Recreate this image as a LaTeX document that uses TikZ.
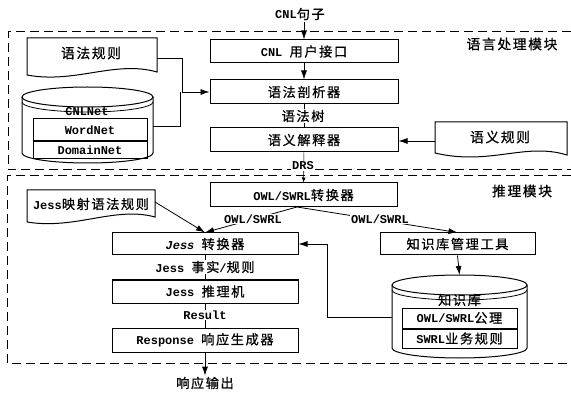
\documentclass[tikz,border=0pt]{standalone}
\usepackage{fontspec}
\setmainfont{Liberation Mono}
\newfontfamily\cjk{Noto Sans CJK SC}[LetterSpace=12, FakeBold=0.8, Scale=1.1]
\usetikzlibrary{arrows.meta}
\newcommand\zh[1]{{\cjk\mdseries\upshape #1}}
\tikzset{
  box/.style={draw, line width=1pt, inner sep=0pt, font=\fontsize{12}{14}\selectfont\bfseries},
  docshape/.style={draw, line width=1pt, fill=white},
  lbl/.style={fill=white, inner sep=1pt, font=\fontsize{12}{14}\selectfont\bfseries},
  plain/.style={inner sep=1pt, font=\fontsize{12}{14}\selectfont\bfseries},
  arr/.style={-{Latex[length=9pt,width=6pt]}, line width=0.8pt},
  smallarr/.style={-{Latex[length=5pt,width=4pt]}, line width=0.6pt},
  conn/.style={line width=0.7pt},
  module/.style={dash pattern=on 9pt off 5pt, line width=1pt}
}
\begin{document}
\begin{tikzpicture}[x=1pt,y=-1pt]
\useasboundingbox (0,0) rectangle (571,393);

% module frames
\draw[module] (571,32) -- (8,32) -- (8,170) -- (571,170);
\draw[module] (571,176) -- (7,176) -- (7,363) -- (571,363);

% main column (language module)
\node[box, minimum width=188pt, minimum height=23pt] (cnl) at (304,51.5) {CNL \zh{用户接口}};
\node[box, minimum width=188pt, minimum height=24pt] (parser) at (304,92) {\zh{语法剖析器}};
\node[box, minimum width=188pt, minimum height=24pt] (interp) at (304,140) {\zh{语义解释器}};
\node[box, minimum width=187pt, minimum height=24pt] (conv) at (303.5,195) {OWL/SWRL\zh{转换器}};

% reasoning column
\node[box, minimum width=186pt, minimum height=22pt] (jessconv) at (205,244) {{\itshape Jess} \zh{转换器}};
\node[box, minimum width=186pt, minimum height=23pt] (jessinf) at (205,291.5) {Jess \zh{推理机}};
\node[box, minimum width=186pt, minimum height=24pt] (resp) at (205,340) {Response \zh{响应生成器}};
\node[box, minimum width=155pt, minimum height=22pt] (kbm) at (457.5,244) {\zh{知识库管理工具}};

% documents
\draw[docshape] (27,38) -- (157,38) -- (157,72)
  .. controls (115,60) and (75,84) .. (27,75) -- cycle;
\node[plain, font=\fontsize{12.5}{15}\selectfont] (gr) at (91,53) {\zh{语法规则}};
\coordinate (grR) at (157,58);

\draw[docshape] (435,122) -- (567,122) -- (567,155)
  .. controls (525,142) and (490,166) .. (435,153) -- cycle;
\node[plain, font=\fontsize{12.5}{15}\selectfont] (sr) at (500,137) {\zh{语义规则}};
\coordinate (srL) at (435,141);

\draw[docshape] (27,190) -- (155,190) -- (155,217)
  .. controls (115,206) and (75,230) .. (27,222) -- cycle;
\node[plain, font=\fontsize{12}{15}\selectfont\bfseries] (jm) at (91,204) {Jess\zh{映射语法规则}};
\coordinate (jmR) at (155,202);

% CNLNet cylinder
\draw[line width=1pt, fill=white] (22,97) -- (22,153)
  arc[start angle=180, end angle=360, x radius=65.5pt, y radius=10pt] -- (153,97);
\draw[line width=1pt] (87.5,97) ellipse [x radius=65.5pt, y radius=10pt];
\draw[line width=0.8pt] (22,102) arc[start angle=180, end angle=360, x radius=65.5pt, y radius=10pt];
\node[plain, inner sep=0pt] (cnlnet) at (87,112) {CNLNet};
\node[box, minimum width=114pt, minimum height=22pt] (wordnet) at (90,130) {WordNet};
\node[box, minimum width=114pt, minimum height=17pt] (domainnet) at (90,150.5) {DomainNet};
\draw[line width=2pt] (wordnet.south west) -- (wordnet.south east);
\coordinate (cnlnetR) at (153,126);

% knowledge base cylinder
\draw[line width=1pt, fill=white] (392,285) -- (392,348)
  arc[start angle=180, end angle=360, x radius=67.5pt, y radius=10pt] -- (527,285);
\draw[line width=1pt] (459.5,285) ellipse [x radius=67.5pt, y radius=10pt];
\draw[line width=0.8pt] (392,290) arc[start angle=180, end angle=360, x radius=67.5pt, y radius=10pt];
\node[plain, inner sep=0pt] (kb) at (459.5,300) {\zh{知识库}};
\node[box, minimum width=115pt, minimum height=20pt] (owlax) at (459.5,318) {OWL/SWRL\zh{公理}};
\node[box, minimum width=115pt, minimum height=19pt] (swrl) at (459.5,338.5) {SWRL\zh{业务规则}};
\coordinate (kbtop) at (459.5,275);
\coordinate (kbL) at (392,317);

% free labels
\node[plain] (cnlsent) at (300,14) {CNL\zh{句子}};
\coordinate (cnlsentB) at (304,22);
\node[plain, font=\fontsize{12.5}{15}\selectfont] (lang) at (512,44) {\zh{语言处理模块}};
\node[plain, font=\fontsize{12.5}{15}\selectfont] (reason) at (522,191) {\zh{推理模块}};
\node[plain] (out) at (205,383) {\zh{响应输出}};

% connectors
\draw[arr] (cnlsentB) -- (cnl.north);
\draw[arr] (cnl) -- (parser);
\draw[conn] (parser) -- (interp);
\node[lbl] (tree) at (303,116) {\zh{语法树}};
\draw[smallarr] (interp) -- (conv);
\node[lbl] (drs) at (303,166) {DRS};

\draw[arr] (grR) -- (182,58) -- (182,92) -- (parser.west);
\draw[conn] (cnlnetR) -- (180,126) -- (180,92);
\draw[arr] (srL) -- (interp.east |- srL);

\coordinate (convB) at (297,207);
\draw[arr] (jmR) -- (jessconv.north);
\draw[arr] (convB) -- (jessconv.north);
\draw[arr] (convB) -- (kbm.north);
\node[lbl] (owl1) at (253,219) {OWL/SWRL};
\node[lbl] (owl2) at (380,219) {OWL/SWRL};

\draw[conn] (jessconv) -- (jessinf);
\node[lbl] (facts) at (205,267) {Jess \zh{事实}/\zh{规则}};
\draw[conn] (jessinf) -- (resp);
\node[lbl] (result) at (205,315) {Result};
\draw[arr] (resp.south) -- (out.north);

\draw[arr] (kbm.south) -- (kbtop);
\draw[arr] (kbL) -- (327,317) -- (327,244) -- (jessconv.east);
\end{tikzpicture}
\end{document}
